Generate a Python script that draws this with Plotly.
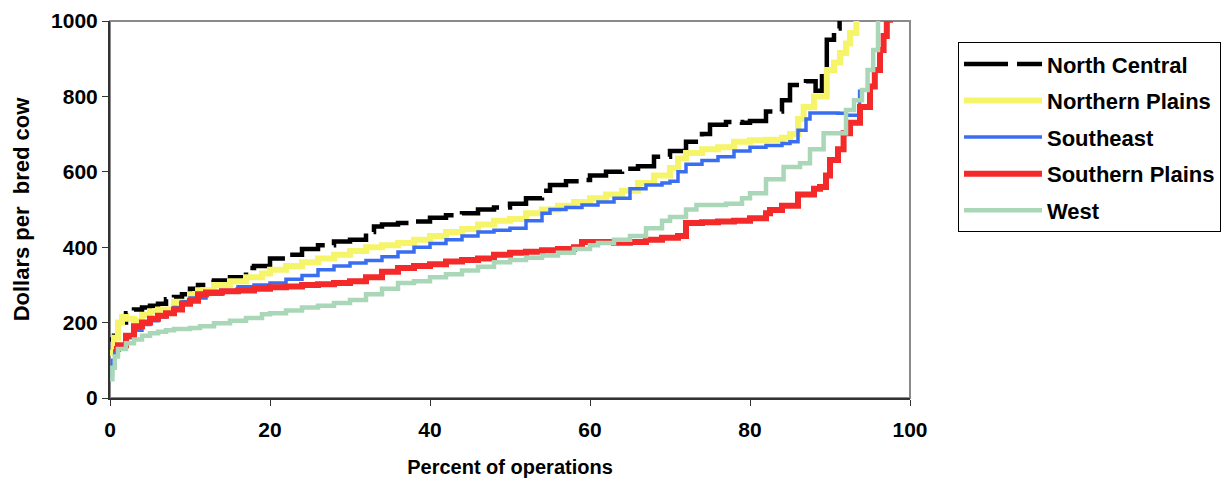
import plotly.graph_objects as go

# ---- data ----
nc_x = [0, 0.5, 1, 2, 3, 4, 5, 6, 7, 8, 9, 10, 11, 12, 13, 15, 17, 18, 20, 22, 24, 26, 28, 30,
        32, 33, 34, 36, 38, 40, 42, 44, 46, 48, 50, 52, 54, 55, 57, 59, 60, 62, 64, 66, 68, 70,
        72, 74, 75, 77, 79, 80, 82, 84, 85, 87, 88.2, 89, 89.6, 90.5, 91.2, 92]
nc_y = [155, 165, 200, 225, 235, 240, 245, 250, 262, 268, 275, 290, 300, 308, 312, 320, 345, 350,
        370, 380, 395, 405, 415, 420, 440, 455, 460, 464, 468, 478, 485, 490, 500, 505, 515, 530,
        550, 565, 575, 578, 590, 600, 608, 615, 640, 655, 680, 700, 725, 732, 730, 735, 760, 790,
        830, 840, 815, 860, 950, 980, 1010, 1040]

np_x = [0, 0.5, 1, 1.5, 2, 3, 4, 5, 6, 8, 10, 11, 13, 15, 17, 19, 20, 22, 24, 26, 28, 30, 32, 34,
        36, 38, 40, 42, 44, 46, 48, 50, 52, 54, 56, 58, 60, 62, 64, 66, 68, 70, 71, 72, 74, 76, 78,
        80, 82, 84, 85, 86, 86.7, 88, 89.6, 90.5, 91.25, 92, 92.5, 93.3, 94]
np_y = [120, 160, 200, 215, 210, 205, 220, 230, 235, 255, 275, 286, 300, 310, 320, 330, 340, 350,
        360, 370, 380, 390, 400, 405, 411, 420, 430, 440, 448, 460, 470, 475, 490, 500, 510, 520,
        530, 540, 550, 570, 590, 610, 635, 650, 660, 665, 680, 684, 685, 690, 700, 740, 772, 800,
        870, 890, 915, 940, 968, 1010, 1040]

se_x = [0, 0.3, 0.6, 1, 2, 3, 4, 5, 6, 7, 8, 9, 10, 12, 14, 16, 18, 20, 22, 24, 26, 28, 30, 32,
        34, 36, 38, 40, 42, 44, 46, 48, 50, 52, 54, 55, 57, 59, 61, 63, 65, 67, 69, 70, 71, 72, 74,
        76, 78, 80, 82, 84, 85, 86, 87, 87.5, 89, 91, 92, 93.9, 93.7, 93.7]
se_y = [60, 100, 125, 140, 160, 180, 195, 205, 215, 225, 240, 255, 265, 275, 285, 295, 300, 305,
        315, 325, 340, 350, 358, 365, 375, 387, 400, 410, 420, 430, 440, 445, 450, 470, 490, 500,
        505, 512, 520, 530, 555, 565, 570, 575, 600, 620, 630, 640, 655, 665, 670, 675, 680, 710,
        740, 756, 756, 755, 750, 762, 790, 818]

sp_x = [0.5, 1, 2, 3, 4, 5, 6, 7, 8, 9, 10, 11, 12, 14, 16, 18, 20, 22, 24, 26, 28, 30, 32, 34,
        36, 38, 40, 42, 44, 46, 48, 50, 52, 54, 56, 58, 59, 61, 63, 65, 67, 69, 71, 72, 74, 76, 78,
        80, 82, 82.5, 84, 86, 88, 88.75, 89.5, 90, 91, 91.7, 92.5, 93.75, 95, 95.6, 96.25, 96.7,
        97.1, 97.5]
sp_y = [130, 140, 165, 190, 200, 210, 218, 225, 235, 250, 258, 275, 280, 283, 285, 290, 294, 296,
        300, 302, 305, 310, 320, 335, 345, 350, 355, 362, 366, 370, 380, 385, 388, 392, 395, 400,
        414, 414, 412, 414, 420, 425, 430, 464, 466, 468, 470, 477, 490, 499, 510, 540, 555, 560,
        590, 631, 660, 702, 730, 772, 826, 870, 923, 960, 1003, 1040]

we_x = [0, 0.3, 0.6, 1, 2, 3, 4, 5, 6, 7, 8, 10, 11.25, 13, 15, 17, 19, 20, 22, 24, 26, 28, 30,
        32, 34, 36, 38, 40, 42, 44, 46, 48, 50, 52, 54, 56, 58, 60, 61, 63, 65, 67, 69, 70, 72,
        73.3, 75, 77, 79, 80, 82, 84.2, 86.25, 87.5, 89.2, 91.25, 92, 93, 94, 94.7, 95.4, 96, 96.3]
we_y = [50, 80, 110, 130, 145, 155, 165, 172, 176, 180, 183, 186, 190, 198, 205, 212, 222, 225,
        232, 240, 245, 252, 260, 275, 290, 305, 310, 320, 328, 338, 348, 360, 366, 372, 378, 385,
        395, 405, 411, 420, 430, 450, 470, 480, 500, 512, 512, 515, 530, 543, 580, 613, 623, 660,
        702, 702, 764, 790, 817, 870, 923, 1010, 1040]

series = [
    ("North Central", nc_x, nc_y, dict(color="#000000", width=4.5, dash="44px,9px")),
    ("Northern Plains", np_x, np_y, dict(color="#F6F56A", width=6)),
    ("Southeast", se_x, se_y, dict(color="#3A6EF0", width=3.5)),
    ("Southern Plains", sp_x, sp_y, dict(color="#F42A2A", width=6)),
    ("West", we_x, we_y, dict(color="#A9D7B8", width=4.5)),
]

FONT = "Arial, Liberation Sans, sans-serif"

fig = go.Figure()
for name, xs, ys, line in series:
    fig.add_trace(go.Scatter(x=xs, y=ys, mode="lines", name=name,
                             line=dict(shape="hv", **line), legendgroup=name))

fig.update_layout(
    width=1230, height=483,
    margin=dict(l=102, r=328, t=13, b=93),
    paper_bgcolor="white", plot_bgcolor="white",
    font=dict(family=FONT, size=21, color="black", weight=700),
    showlegend=True,
    legend=dict(x=1.06, y=0.944, xanchor="left", yanchor="top",
                bordercolor="black", borderwidth=1, bgcolor="white",
                font=dict(family=FONT, size=22, color="black", weight=700),
                tracegroupgap=5, itemwidth=78),
    shapes=[dict(type="rect", xref="paper", yref="paper", x0=0, y0=0, x1=1, y1=1,
                 line=dict(color="#8a8a8a", width=2), layer="below")],
)
fig.update_xaxes(range=[0, 100], tickvals=[0, 20, 40, 60, 80, 100], ticks="outside",
                 ticklen=6, tickcolor="#333", showgrid=False, zeroline=False,
                 showline=True, linecolor="#333", linewidth=2, automargin="bottom",
                 ticklabelstandoff=6,
                 tickfont=dict(family=FONT, size=21, weight=700),
                 title=dict(text="Percent of operations", standoff=20,
                            font=dict(family=FONT, size=20, weight=700)))
fig.update_yaxes(range=[0, 1000], tickvals=[0, 200, 400, 600, 800, 1000], ticks="outside",
                 ticklen=6, tickcolor="#333", showgrid=False, zeroline=False,
                 showline=True, linecolor="#333", linewidth=2, automargin="left",
                 tickfont=dict(family=FONT, size=21, weight=700),
                 title=dict(text="Dollars per  bred cow", standoff=15,
                            font=dict(family=FONT, size=22, weight=700)))

fig.write_html("out.html")
